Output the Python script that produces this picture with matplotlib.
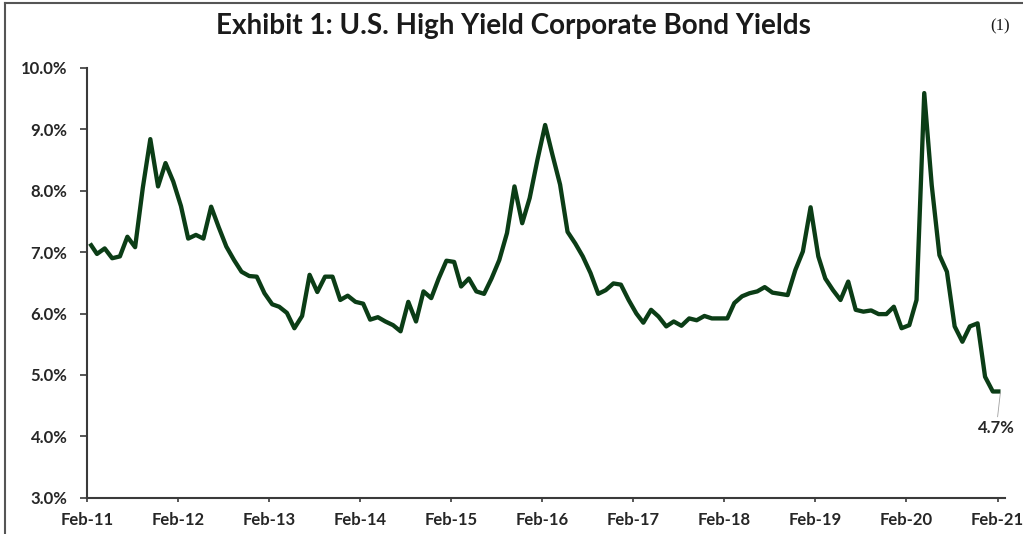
import matplotlib
matplotlib.use("Agg")
import matplotlib.pyplot as plt
import matplotlib.dates as mdates
from matplotlib.ticker import FuncFormatter
from matplotlib.lines import Line2D
import pandas as pd

# ---- data (monthly, Feb-2011 .. Feb-2021), yield in % ----
start_date = "2011-02-13"
yields = [
    7.14, 6.97, 7.06, 6.90, 6.93, 7.25, 7.08, 8.05, 8.84, 8.07,
    8.45, 8.15, 7.75, 7.22, 7.28, 7.22, 7.74, 7.41, 7.09, 6.87,
    6.68, 6.61, 6.60, 6.33, 6.15, 6.11, 6.01, 5.76, 5.96, 6.63,
    6.35, 6.60, 6.60, 6.22, 6.29, 6.19, 6.16, 5.90, 5.94, 5.87,
    5.81, 5.71, 6.19, 5.87, 6.36, 6.25, 6.57, 6.86, 6.84, 6.44,
    6.57, 6.36, 6.32, 6.57, 6.87, 7.31, 8.07, 7.47, 7.88, 8.50,
    9.07, 8.59, 8.10, 7.33, 7.14, 6.93, 6.66, 6.32, 6.38, 6.49,
    6.47, 6.22, 6.00, 5.85, 6.06, 5.95, 5.79, 5.87, 5.80, 5.92,
    5.89, 5.96, 5.92, 5.92, 5.92, 6.17, 6.28, 6.33, 6.36, 6.43,
    6.34, 6.32, 6.30, 6.71, 7.01, 7.73, 6.93, 6.57, 6.38, 6.22,
    6.52, 6.06, 6.03, 6.05, 5.99, 5.99, 6.11, 5.76, 5.81, 6.22,
    9.59, 8.09, 6.95, 6.68, 5.79, 5.54, 5.79, 5.84, 4.97, 4.73,
    4.73,
]
dates = [pd.Timestamp(start_date) + pd.DateOffset(months=i) for i in range(len(yields))]
tick_years = list(range(2011, 2022))
y_ticks = [3, 4, 5, 6, 7, 8, 9, 10]
title = "Exhibit 1: U.S. High Yield Corporate Bond Yields"
note = "(1)"
last_label = "4.7%"

# ---- figure ----
fig = plt.figure(figsize=(10.23, 5.34), dpi=100)
fig.patch.set_facecolor("white")
ax = fig.add_axes([87 / 1023, 36.3 / 534, (1005 - 87) / 1023, (497.7 - 67.9) / 534])

line_color = "#0b3d16"
ax.plot(dates, yields, color=line_color, lw=3.1, solid_joinstyle="round", solid_capstyle="butt")

ax.set_ylim(3, 10)
ax.set_xlim(pd.Timestamp("2011-02-01"), pd.Timestamp("2021-03-03"))
ax.set_yticks(y_ticks)
ax.yaxis.set_major_formatter(FuncFormatter(lambda v, p: f"{v:.1f}%"))
ax.set_xticks([pd.Timestamp(f"{y}-02-01") for y in tick_years])
ax.xaxis.set_major_formatter(mdates.DateFormatter("%b-%y"))

for s in ["top", "right"]:
    ax.spines[s].set_visible(False)
spine_color = "#3a3a3a"
for s in ["left", "bottom"]:
    ax.spines[s].set_color(spine_color)
    ax.spines[s].set_linewidth(1.5)

font = "Lato"
ax.tick_params(axis="y", direction="out", length=5, width=1.2, color=spine_color,
               pad=9, labelsize=12, labelcolor="#262626")
ax.tick_params(axis="x", direction="out", length=3, width=1.2, color=spine_color,
               pad=7, labelsize=12, labelcolor="#262626")
for lab in ax.get_xticklabels() + ax.get_yticklabels():
    lab.set_fontfamily(font)
    lab.set_fontweight("bold")
    lab.set_clip_on(False)

# annotation for last value
ax.annotate(last_label, xy=(dates[-1], yields[-1]), xytext=(-3, -26),
            textcoords="offset points", ha="center", va="center",
            fontsize=12, fontweight="bold", family=font, color="#262626",
            arrowprops=dict(arrowstyle="-", color="#a0a0a0", lw=0.6,
                            shrinkA=0, shrinkB=1))

# title and note
fig.text(513 / 1023, 1 - 26 / 534, title, ha="center", va="center",
         fontsize=20, fontweight="bold", family=font, color="#1a1a1a")
fig.text(1000 / 1023, 1 - 26 / 534, note, ha="center", va="center",
         fontsize=12, family="Liberation Serif", color="#1a1a1a")

# frame lines (left and top)
fig.add_artist(Line2D([4.5 / 1023, 4.5 / 1023], [0, 1 - 3 / 534],
                      transform=fig.transFigure, color="#555555", lw=1.5))
fig.add_artist(Line2D([4.5 / 1023, 1], [1 - 3 / 534, 1 - 3 / 534],
                      transform=fig.transFigure, color="#555555", lw=1.5))

fig.savefig("out.png", dpi=100, facecolor="white")
